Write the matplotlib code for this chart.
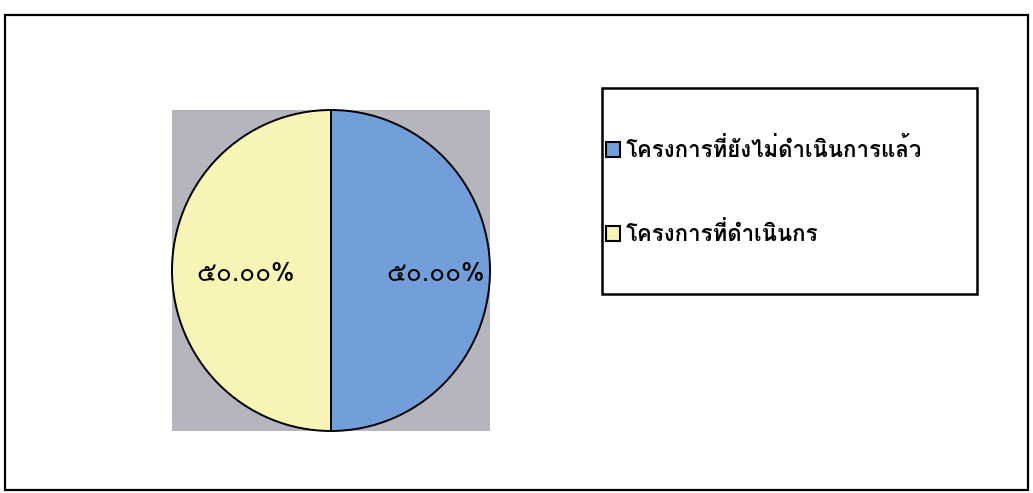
import numpy as np
import matplotlib
matplotlib.use('Agg')
from matplotlib import pyplot as plt
from matplotlib import font_manager
from matplotlib.ft2font import FT2Font
from matplotlib.patches import Rectangle

labels = ['โครงการที่ยังไม่ดำเนินการแล้ว', 'โครงการที่ดำเนินกร']
values = [50.0, 50.0]
pct_labels = ['๕๐.๐๐%', '๕๐.๐๐%']
colors = ['#729fd9', '#f7f4b5']


def has_thai(path):
    try:
        cmap = FT2Font(path).get_charmap()
    except Exception:
        return False
    return all(ord(c) in cmap for c in 'กคงดำ๕๐่้')


# pick an installed family that really carries the Thai glyphs
thai = []
for f in font_manager.fontManager.ttflist:
    if f.name not in thai and has_thai(f.fname):
        thai.append(f.name)
sans = [n for n in thai if 'sans' in n.lower() or 'loma' in n.lower()]
pick = (sans or thai)[:1]
plt.rcParams['font.family'] = pick + ['Noto Sans', 'DejaVu Sans']

W, H = 1033, 493
fig = plt.figure(figsize=(W / 100, H / 100), dpi=100)
# outer chart frame and legend box
fig.patches.append(Rectangle((5 / W, 3 / H), 1023 / W, 475 / H, transform=fig.transFigure,
                             fill=False, edgecolor='black', linewidth=1.6))
fig.patches.append(Rectangle((602 / W, 1 - 294 / H), 375 / W, 206 / H, transform=fig.transFigure,
                             fill=False, edgecolor='black', linewidth=1.8))

ax = fig.add_axes([172 / W, 1 - 431 / H, 318 / W, 321 / H])
wedges, _ = ax.pie(values, colors=colors, startangle=90, counterclock=False, radius=1.0,
                   wedgeprops=dict(edgecolor='black', linewidth=1.4))
ax.set_frame_on(True)
ax.set_facecolor('#b5b5bd')
ax.set_xlim(-1.0, 1.0)
ax.set_ylim(-1.0, 1.0)
ax.set_aspect('auto')
for s in ax.spines.values():
    s.set_visible(False)
ax.set_xticks([])
ax.set_yticks([])
for w, t in zip(wedges, pct_labels):
    ang = np.deg2rad((w.theta1 + w.theta2) / 2)
    ax.text(0.6 * np.cos(ang) + 0.06, 0.6 * np.sin(ang) - 0.02, t, ha='center', va='center', fontsize=19)

leg = fig.legend(wedges, labels, loc='center left',
                 bbox_to_anchor=(606 / W, 1 - 191 / H),
                 frameon=False, prop={'weight': 'bold', 'size': 16},
                 handlelength=0.65, handleheight=0.65, handletextpad=0.25,
                 labelspacing=2.7, borderpad=0, borderaxespad=0)
for h in leg.legend_handles:
    h.set_linewidth(1.5)

plt.savefig('out.png', dpi=100)
